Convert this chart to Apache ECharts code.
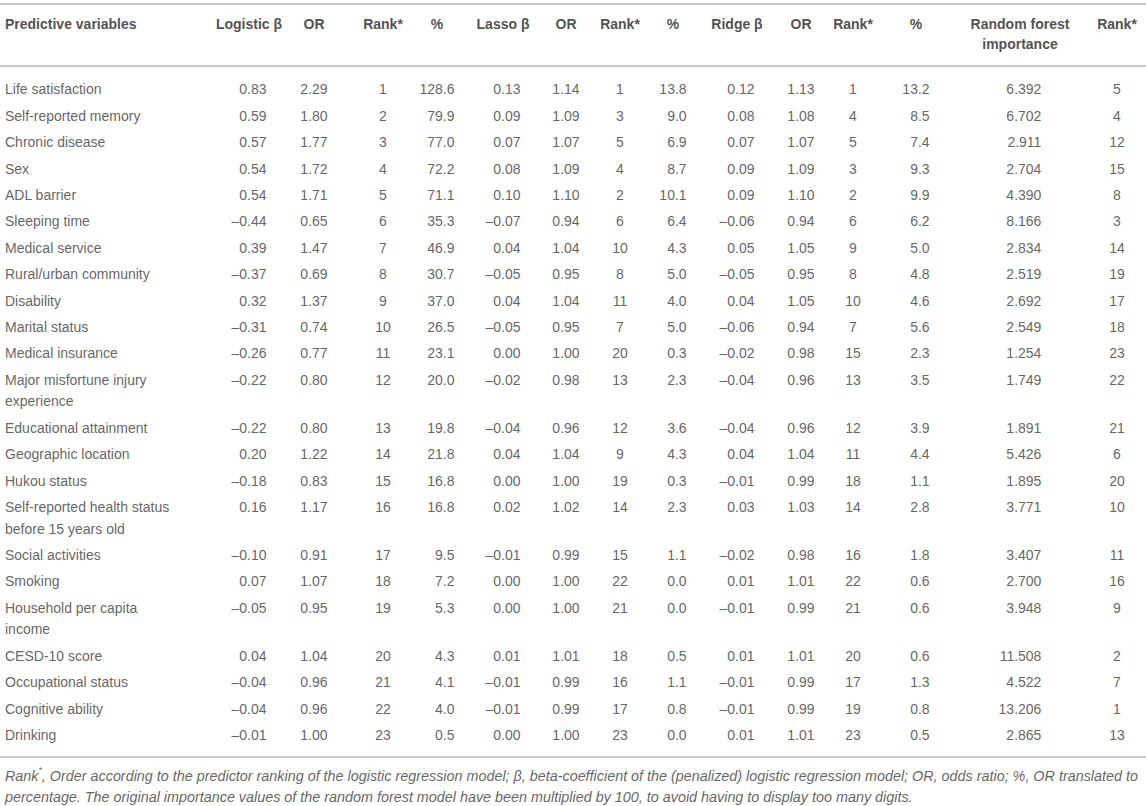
<!DOCTYPE html>
<html>
<head>
<meta charset="utf-8">
<script src="https://cdn.jsdelivr.net/npm/echarts@6/dist/echarts.min.js"></script>
<style>
html,body{margin:0;padding:0;background:#fff;}
#chart{width:1146px;height:806px;}
</style>
</head>
<body>
<div id="chart"></div>
<script>
// ---------- DATA ----------
const headers = ['Predictive variables','Logistic β','OR','Rank*','%','Lasso β','OR','Rank*','%','Ridge β','OR','Rank*','%','Random forest\nimportance','Rank*'];
const variables = ['Life satisfaction','Self-reported memory','Chronic disease','Sex','ADL barrier','Sleeping time','Medical service','Rural/urban community','Disability','Marital status','Medical insurance','Major misfortune injury\nexperience','Educational attainment','Geographic location','Hukou status','Self-reported health status\nbefore 15 years old','Social activities','Smoking','Household per capita\nincome','CESD-10 score','Occupational status','Cognitive ability','Drinking'];
const logisticBeta = [0.83,0.59,0.57,0.54,0.54,-0.44,0.39,-0.37,0.32,-0.31,-0.26,-0.22,-0.22,0.20,-0.18,0.16,-0.10,0.07,-0.05,0.04,-0.04,-0.04,-0.01];
const logisticOR = [2.29,1.80,1.77,1.72,1.71,0.65,1.47,0.69,1.37,0.74,0.77,0.80,0.80,1.22,0.83,1.17,0.91,1.07,0.95,1.04,0.96,0.96,1.00];
const logisticRank = [1,2,3,4,5,6,7,8,9,10,11,12,13,14,15,16,17,18,19,20,21,22,23];
const logisticPct = [128.6,79.9,77.0,72.2,71.1,35.3,46.9,30.7,37.0,26.5,23.1,20.0,19.8,21.8,16.8,16.8,9.5,7.2,5.3,4.3,4.1,4.0,0.5];
const lassoBeta = [0.13,0.09,0.07,0.08,0.10,-0.07,0.04,-0.05,0.04,-0.05,0.00,-0.02,-0.04,0.04,0.00,0.02,-0.01,0.00,0.00,0.01,-0.01,-0.01,0.00];
const lassoOR = [1.14,1.09,1.07,1.09,1.10,0.94,1.04,0.95,1.04,0.95,1.00,0.98,0.96,1.04,1.00,1.02,0.99,1.00,1.00,1.01,0.99,0.99,1.00];
const lassoRank = [1,3,5,4,2,6,10,8,11,7,20,13,12,9,19,14,15,22,21,18,16,17,23];
const lassoPct = [13.8,9.0,6.9,8.7,10.1,6.4,4.3,5.0,4.0,5.0,0.3,2.3,3.6,4.3,0.3,2.3,1.1,0.0,0.0,0.5,1.1,0.8,0.0];
const ridgeBeta = [0.12,0.08,0.07,0.09,0.09,-0.06,0.05,-0.05,0.04,-0.06,-0.02,-0.04,-0.04,0.04,-0.01,0.03,-0.02,0.01,-0.01,0.01,-0.01,-0.01,0.01];
const ridgeOR = [1.13,1.08,1.07,1.09,1.10,0.94,1.05,0.95,1.05,0.94,0.98,0.96,0.96,1.04,0.99,1.03,0.98,1.01,0.99,1.01,0.99,0.99,1.01];
const ridgeRank = [1,4,5,3,2,6,9,8,10,7,15,13,12,11,18,14,16,22,21,20,17,19,23];
const ridgePct = [13.2,8.5,7.4,9.3,9.9,6.2,5.0,4.8,4.6,5.6,2.3,3.5,3.9,4.4,1.1,2.8,1.8,0.6,0.6,0.6,1.3,0.8,0.5];
const rfImportance = [6.392,6.702,2.911,2.704,4.390,8.166,2.834,2.519,2.692,2.549,1.254,1.749,1.891,5.426,1.895,3.771,3.407,2.700,3.948,11.508,4.522,13.206,2.865];
const rfRank = [5,4,12,15,8,3,14,19,17,18,23,22,21,6,20,10,11,16,9,2,7,1,13];
const footnoteLine1 = 'Order according to the predictor ranking of the logistic regression model; β, beta-coefficient of the (penalized) logistic regression model; OR, odds ratio; %, OR translated to';
const footnoteLine2 = 'percentage. The original importance values of the random forest model have been multiplied by 100, to avoid having to display too many digits.';

// ---------- LAYOUT ----------
const W = 1146, H = 806;
const FONT = '"Liberation Sans", Arial, Helvetica, sans-serif';
const FS = 14;
const textColor = '#3a3a3a';
const headColor = '#222';
const ruleColor = '#b8b8b8';
const ruleY = [4, 66, 757];
const headerY = 24;
const firstRowY = 89.5, rowStep = 26.4, extraLine = 21.6, lineH = 21.6;

const fmt2 = v => (v < 0 ? '–' : '') + Math.abs(v).toFixed(2);
const fmt1 = v => v.toFixed(1);
const fmt3 = v => v.toFixed(3);
const fmtI = v => String(v);

const columns = [
  {values: variables, fmt: s => s, x: 5, align: 'left'},
  {values: logisticBeta, fmt: fmt2, x: 249, align: 'right'},
  {values: logisticOR, fmt: fmt2, x: 314, align: 'right'},
  {values: logisticRank, fmt: fmtI, x: 383, align: 'center'},
  {values: logisticPct, fmt: fmt1, x: 437, align: 'right'},
  {values: lassoBeta, fmt: fmt2, x: 503, align: 'right'},
  {values: lassoOR, fmt: fmt2, x: 566, align: 'right'},
  {values: lassoRank, fmt: fmtI, x: 620, align: 'center'},
  {values: lassoPct, fmt: fmt1, x: 673, align: 'right'},
  {values: ridgeBeta, fmt: fmt2, x: 737, align: 'right'},
  {values: ridgeOR, fmt: fmt2, x: 801, align: 'right'},
  {values: ridgeRank, fmt: fmtI, x: 853, align: 'center'},
  {values: ridgePct, fmt: fmt1, x: 916, align: 'right'},
  {values: rfImportance, fmt: fmt3, x: 1020, align: 'right'},
  {values: rfRank, fmt: fmtI, x: 1117, align: 'center'}
];

// text measuring
const mctx = document.createElement('canvas').getContext('2d');
function tw(s, size, weight, style) {
  mctx.font = (style || 'normal') + ' ' + (weight || 'normal') + ' ' + size + 'px ' + FONT;
  return mctx.measureText(s).width;
}

// row centres from line counts
const rowY = [];
let yy = firstRowY;
variables.forEach(v => {
  rowY.push(yy);
  const lines = v.split('\n').length;
  yy += rowStep + (lines - 1) * extraLine;
});

const series = [];
// header series
const headerData = headers.map((h, i) => ({value: [columns[i].x, headerY], name: h}));
headerData[0].label = {align: 'left'};
series.push({
  type: 'scatter', symbolSize: 0, silent: true,
  data: headerData,
  label: {
    show: true, position: [0, 0], formatter: p => p.name,
    align: 'center', verticalAlign: 'top', offset: [0, -10],
    fontFamily: FONT, fontSize: FS, fontWeight: 'bold', color: headColor, lineHeight: 20
  },
  markLine: {
    silent: true, symbol: 'none', label: {show: false},
    lineStyle: {color: ruleColor, width: 1.6, type: 'solid'},
    data: ruleY.map(y => ({yAxis: y}))
  }
});

// data series
columns.forEach((c) => {
  const strs = c.values.map(c.fmt);
  let ax = c.x;
  if (c.align === 'right') {
    const maxW = Math.max(...strs.map(s => tw(s, FS)));
    ax = c.x + maxW / 2;
  }
  series.push({
    type: 'scatter', symbolSize: 0, silent: true,
    data: strs.map((s, ri) => ({value: [ax, rowY[ri]], name: s})),
    label: {
      show: true, position: [0, 0], formatter: p => p.name,
      align: c.align, verticalAlign: 'top', offset: [0, -lineH / 2],
      fontFamily: FONT, fontSize: FS, color: textColor, lineHeight: lineH
    }
  });
});

// footnote: size chosen so the first line spans the table width
const fnTarget = 1134;
const fnW10 = tw('Rank, ' + footnoteLine1, 10, 'normal', 'italic') + tw('*', 6, 'normal', 'italic');
const fnSize = Math.min(15, 10 * fnTarget / fnW10);
const fnLine = 21;
series.push({
  type: 'scatter', symbolSize: 0, silent: true,
  data: [{value: [5, 765], name: 'fn'}],
  label: {
    show: true, position: [0, 0], align: 'left', verticalAlign: 'top',
    formatter: '{it|Rank}{sup|*}{it|, ' + footnoteLine1 + '}\n{it|' + footnoteLine2 + '}',
    rich: {
      it: {fontFamily: FONT, fontStyle: 'italic', fontSize: fnSize, color: textColor, lineHeight: fnLine},
      sup: {fontFamily: FONT, fontStyle: 'italic', fontSize: fnSize * 0.6, color: textColor, lineHeight: fnLine, verticalAlign: 'top', padding: [0, 0, 6, 0]}
    }
  }
});

const chart = echarts.init(document.getElementById('chart'), null, {renderer: 'svg'});
chart.setOption({
  animation: false,
  backgroundColor: '#fff',
  grid: {left: 0, right: 0, top: 0, bottom: 0},
  xAxis: {type: 'value', min: 0, max: W, show: false},
  yAxis: {type: 'value', min: 0, max: H, inverse: true, show: false},
  series: series
});
</script>
</body>
</html>
